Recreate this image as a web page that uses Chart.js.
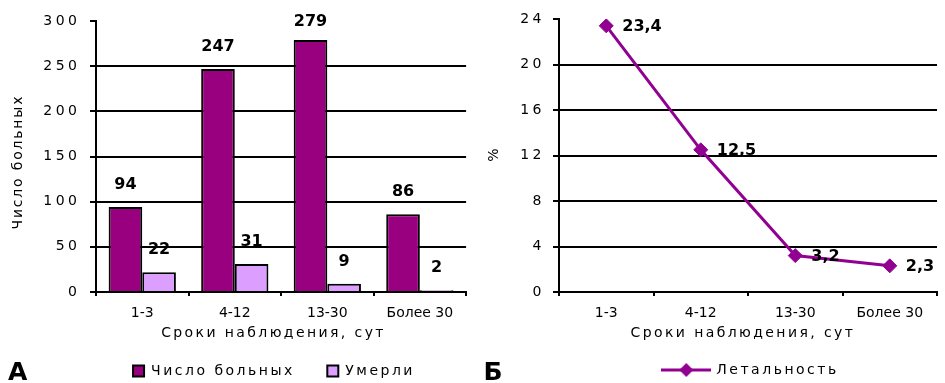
<!DOCTYPE html>
<html>
<head>
<meta charset="utf-8">
<script src="https://cdn.jsdelivr.net/npm/chart.js@4/dist/chart.umd.min.js"></script>
<style>
  html, body { margin: 0; padding: 0; background: #fff; }
  #page { position: relative; width: 945px; height: 383px; overflow: hidden; background: #fff; }
  #chartA { position: absolute; left: 0; top: 0; }
  #chartB { position: absolute; left: 475px; top: 0; }
</style>
</head>
<body>
<div id="page">
  <canvas id="chartA" width="472" height="383"></canvas>
  <canvas id="chartB" width="470" height="383"></canvas>
</div>
<script>
// Observation periods (days)
const periods = ['1-3', '4-12', '13-30', 'Более 30'];
// Panel A: number of patients and deaths per period
const patients = [94, 247, 279, 86];
const deaths = [22, 31, 9, 2];
// Panel B: lethality, %
const lethality = [23.4, 12.5, 3.2, 2.3];
// Axis ticks
const countTicks = [0, 50, 100, 150, 200, 250, 300];
const percentTicks = [0, 4, 8, 12, 16, 20, 24];

const FONT = "'DejaVu Sans', Verdana, sans-serif";
const DARK = '#990080';
const LIGHT = '#DC9EFF';
const LINE = '#920092';

const fmtComma = v => String(v).replace('.', ',');

// Wrap a scale's label drawing so it uses its own letter spacing
// (and is not clipped to the narrow scale box)
function spaceLabels(scale, sp) {
  if (!scale || scale._spaced) return;
  const orig = scale.drawLabels;
  scale._computeLabelArea = () => undefined;
  scale.drawLabels = function (area) {
    const c = this.ctx;
    c.save();
    c.letterSpacing = sp;
    orig.call(this, area);
    c.restore();
  };
  scale._spaced = true;
}

// Wide-tracked text, like the original Verdana rendering
const trackingPlugin = {
  id: 'tracking',
  beforeUpdate(chart) { chart.ctx.letterSpacing = '2.5px'; },
  beforeDraw(chart) {
    chart.ctx.letterSpacing = '2.5px';
    spaceLabels(chart.scales.x, '0px');
    spaceLabels(chart.scales.y, '3.5px');
  }
};

// Axis titles and the panel letter
const annotatePlugin = {
  id: 'annotate',
  afterDraw(chart, args, opts) {
    const ctx = chart.ctx;
    ctx.save();
    ctx.fillStyle = '#000';
    ctx.textBaseline = 'middle';
    ctx.textAlign = 'center';
    ctx.font = '14px ' + FONT;
    // x axis title
    ctx.letterSpacing = opts.xTitle.spacing + 'px';
    ctx.fillText(opts.xTitle.text, opts.xTitle.x + opts.xTitle.spacing / 2, opts.xTitle.y);
    // y axis title, rotated
    ctx.save();
    ctx.letterSpacing = opts.yTitle.spacing + 'px';
    ctx.translate(opts.yTitle.x, opts.yTitle.y);
    ctx.rotate(-Math.PI / 2);
    ctx.fillText(opts.yTitle.text, opts.yTitle.spacing / 2, 0);
    ctx.restore();
    // panel letter
    ctx.letterSpacing = '0px';
    ctx.textAlign = 'left';
    ctx.textBaseline = 'alphabetic';
    ctx.font = 'bold 25px ' + FONT;
    ctx.fillText(opts.letter.text, opts.letter.x, opts.letter.y);
    ctx.restore();
  }
};

// Value labels above bars / beside points
const valueLabelPlugin = {
  id: 'valueLabels',
  afterDatasetsDraw(chart, args, opts) {
    const ctx = chart.ctx;
    const top = chart.chartArea.top;
    ctx.save();
    ctx.letterSpacing = '0px';
    ctx.fillStyle = '#000';
    ctx.font = 'bold 16px ' + FONT;
    ctx.textBaseline = 'middle';
    chart.data.datasets.forEach((ds, i) => {
      const meta = chart.getDatasetMeta(i);
      meta.data.forEach((el, j) => {
        const text = opts.format(ds.data[j]);
        if (opts.mode === 'above') {
          ctx.textAlign = 'center';
          ctx.fillText(text, el.x, Math.max(el.y - 22, top + 1));
        } else {
          ctx.textAlign = 'left';
          ctx.fillText(text, el.x + 16, el.y + 1.5);
        }
      });
    });
    ctx.restore();
  }
};

function yGrid(top) {
  return {
    color: c => (c.tick && c.tick.value === top) ? 'rgba(0,0,0,0)' : '#000',
    tickColor: '#000',
    lineWidth: 2,
    tickLength: 6,
    drawTicks: true
  };
}
const xGrid = {
  offset: true,
  drawOnChartArea: false,
  drawTicks: true,
  tickLength: 4,
  tickColor: '#000',
  color: '#000',
  lineWidth: 2
};
const axisBorder = { display: true, color: '#000', width: 2 };

// Panel A — bars
new Chart(document.getElementById('chartA'), {
  type: 'bar',
  data: {
    labels: periods,
    datasets: [
      { label: 'Число больных', data: patients, backgroundColor: DARK, borderColor: '#000', borderWidth: 2 },
      { label: 'Умерли', data: deaths, backgroundColor: LIGHT, borderColor: '#000', borderWidth: 2 }
    ]
  },
  options: {
    responsive: false,
    animation: false,
    events: [],
    datasets: { bar: { barPercentage: 1, categoryPercentage: 0.727 } },
    layout: { padding: { left: 78, right: 2, top: 21, bottom: -5 } },
    scales: {
      x: {
        grid: xGrid,
        border: axisBorder,
        ticks: { color: '#000', font: { family: FONT, size: 14 }, padding: 8.6, maxRotation: 0, autoSkip: false },
        afterFit: s => { s.height = 39.5; }
      },
      y: {
        min: 0, max: 300,
        afterBuildTicks: s => { s.ticks = countTicks.map(v => ({ value: v })); },
        grid: yGrid(300),
        border: axisBorder,
        ticks: { color: '#000', font: { family: FONT, size: 14 }, padding: 9.5 },
        afterFit: s => { s.width = 18; }
      }
    },
    plugins: {
      legend: {
        position: 'bottom',
        labels: { boxWidth: 11, boxHeight: 11, padding: 32.5, color: '#000', font: { family: FONT, size: 14 } }
      },
      tooltip: { enabled: false },
      valueLabels: { mode: 'above', format: v => String(v) },
      annotate: {
        xTitle: { text: 'Сроки наблюдения, сут', x: 272.3, y: 333, spacing: 2.4 },
        yTitle: { text: 'Число больных', x: 18, y: 163, spacing: 1.8 },
        letter: { text: 'А', x: 8, y: 380 }
      }
    }
  },
  plugins: [trackingPlugin, valueLabelPlugin, annotatePlugin]
});

// Legend glyph for the line series: short line with a diamond
function lineGlyph(color) {
  const c = document.createElement('canvas');
  c.width = 50; c.height = 16;
  const g = c.getContext('2d');
  g.strokeStyle = color; g.lineWidth = 3;
  g.beginPath(); g.moveTo(0, 8); g.lineTo(50, 8); g.stroke();
  g.fillStyle = color;
  g.beginPath(); g.moveTo(18, 8); g.lineTo(25, 1); g.lineTo(32, 8); g.lineTo(25, 15); g.closePath(); g.fill();
  return c;
}

// Panel B — lethality line
new Chart(document.getElementById('chartB'), {
  type: 'line',
  data: {
    labels: periods,
    datasets: [{
      label: 'Летальность',
      data: lethality,
      borderColor: LINE,
      backgroundColor: LINE,
      borderWidth: 3,
      tension: 0,
      pointStyle: 'rectRot',
      pointRadius: 7,
      pointBackgroundColor: LINE,
      pointBorderColor: LINE,
      pointBorderWidth: 1
    }]
  },
  options: {
    responsive: false,
    animation: false,
    events: [],
    layout: { padding: { left: 82, right: 0, top: 19, bottom: -4 } },
    scales: {
      x: {
        offset: true,
        grid: xGrid,
        border: axisBorder,
        ticks: { color: '#000', font: { family: FONT, size: 14 }, padding: 8.6, maxRotation: 0, autoSkip: false },
        afterFit: s => { s.height = 61; }
      },
      y: {
        min: 0, max: 24,
        afterBuildTicks: s => { s.ticks = percentTicks.map(v => ({ value: v })); },
        grid: yGrid(24),
        border: axisBorder,
        ticks: { color: '#000', font: { family: FONT, size: 14 }, padding: 8 },
        afterFit: s => { s.width = 2; }
      }
    },
    plugins: {
      legend: {
        position: 'bottom',
        labels: {
          usePointStyle: true,
          pointStyleWidth: 46,
          padding: 10,
          color: '#000',
          font: { family: FONT, size: 14 },
          generateLabels: chart => chart.data.datasets.map((ds, i) => ({
            text: ds.label,
            pointStyle: lineGlyph(ds.borderColor),
            fillStyle: ds.borderColor,
            strokeStyle: ds.borderColor,
            lineWidth: 0,
            datasetIndex: i,
            fontColor: '#000'
          }))
        }
      },
      tooltip: { enabled: false },
      valueLabels: { mode: 'right', format: fmtComma },
      annotate: {
        xTitle: { text: 'Сроки наблюдения, сут', x: 266.7, y: 333, spacing: 2.4 },
        yTitle: { text: '%', x: 19, y: 155, spacing: 0 },
        letter: { text: 'Б', x: 8.5, y: 380 }
      }
    }
  },
  plugins: [trackingPlugin, valueLabelPlugin, annotatePlugin]
});
</script>
</body>
</html>
